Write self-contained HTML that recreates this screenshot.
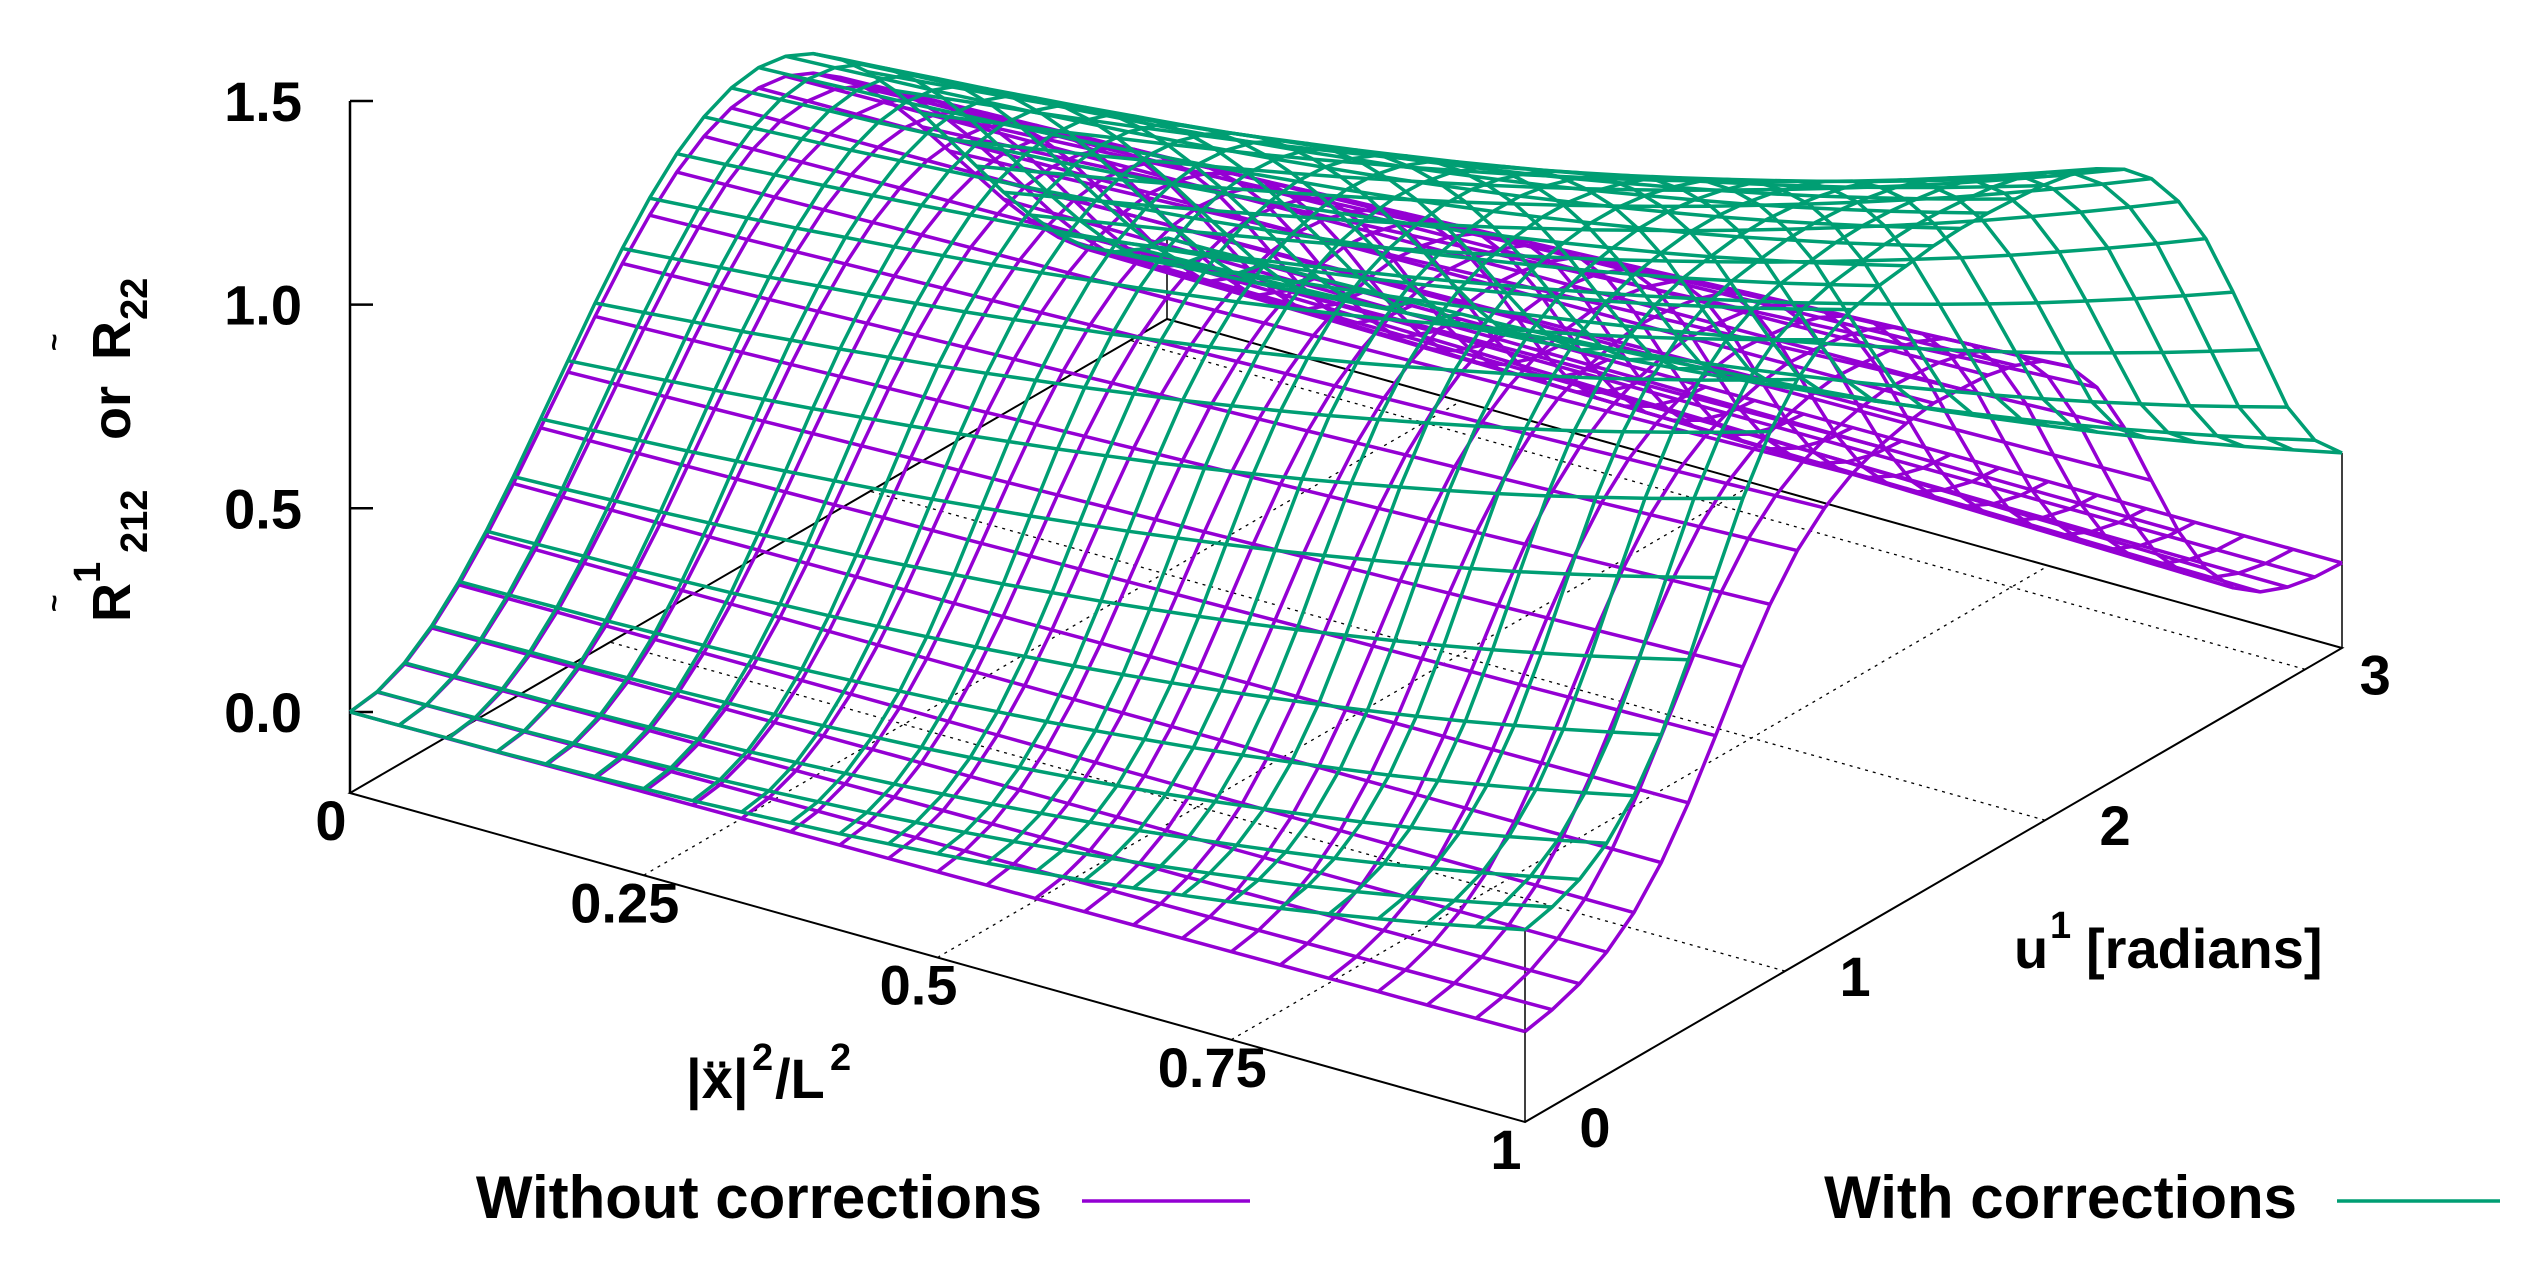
<!DOCTYPE html>
<html><head><meta charset="utf-8"><style>
html,body{margin:0;padding:0;background:#fff;}
svg{display:block;}
text{font-family:"Liberation Sans",Arial,sans-serif;font-weight:bold;fill:#000;}
</style></head><body>
<svg id="chart" width="2545" height="1266" viewBox="0 0 2545 1266" xmlns="http://www.w3.org/2000/svg">
<rect width="2545" height="1266" fill="#fff"/>
<g id="grid"></g>
<g id="box"></g>
<g id="purple"></g>
<g id="green"></g>
<g id="labels"></g>
<g transform="translate(130,622) rotate(-90)">
  <text x="0" y="0" font-size="54">R</text>
  <text x="39" y="-30" font-size="38">1</text>
  <text x="69" y="17" font-size="38">212</text>
  <text x="182" y="0" font-size="54">or</text>
  <text x="262" y="0" font-size="54">R</text>
  <text x="302" y="17" font-size="38">22</text>
  <text x="10" y="-66" font-size="30" font-weight="normal">~</text>
  <text x="271" y="-66" font-size="30" font-weight="normal">~</text>
</g>
<g>
  <text x="686" y="1098" font-size="56">|x|</text>
  <text x="707" y="1100" font-size="56">¨</text>
  <text x="752" y="1070" font-size="38">2</text>
  <text x="775" y="1098" font-size="56">/L</text>
  <text x="830" y="1070" font-size="38">2</text>
</g>
<g>
  <text x="2014" y="968" font-size="56">u</text>
  <text x="2050" y="938" font-size="38">1</text>
  <text x="2086" y="968" font-size="56">[radians]</text>
</g>
<g>
  <g>
    <text x="1042" y="1218" font-size="60" text-anchor="end">Without corrections</text>
    <line x1="1082" y1="1201" x2="1250" y2="1201" stroke="#9400d3" stroke-width="3.5"/>
  </g>
  <g>
    <text x="2297" y="1218" font-size="60" text-anchor="end">With corrections</text>
    <line x1="2337" y1="1201" x2="2500" y2="1201" stroke="#009e73" stroke-width="3.5"/>
  </g>
</g>
</svg>
<script>
// ---- data ----
const xSamples = [0,.0417,.0833,.125,.1667,.2083,.25,.2917,.3333,.375,.4167,.4583,.5,.5417,.5833,.625,.6667,.7083,.75,.7917,.8333,.875,.9167,.9583,1];
const xBlend = [0,.042,.083,.125,.167,.208,.25,.292,.333,.375,.417,.458,.5,.542,.583,.625,.667,.708,.75,.792,.833,.875,.917,.958,1];
const greenOffset = [0,0,.001,.001,.003,.005,.008,.011,.016,.022,.028,.036,.044,.054,.065,.077,.091,.106,.122,.139,.158,.179,.201,.225,.25];
const uSteps = 30; // u samples from 0 to pi
const greenAtX0 = [0,.011,.043,.095,.165,.25,.345,.448,.552,.655,.75,.835,.905,.957,.989,1.0,.989,.957,.905,.835,.75,.655,.552,.448,.345,.25,.165,.095,.043,.011,0];
const greenAtX1 = [.023,.040,.069,.119,.197,.308,.453,.616,.772,.897,.986,1.045,1.08,1.10,1.11,1.12,1.124,1.123,1.119,1.113,1.10,1.077,1.037,.975,.88,.75,.58,.40,.22,.10,.03];
const purpleAtX0 = [0,.01,.04,.09,.157,.238,.328,.426,.524,.622,.713,.793,.86,.909,.94,.95,.94,.909,.86,.793,.713,.622,.524,.426,.328,.238,.157,.09,.04,.01,0];
const purpleAtX1 = [.023,.038,.063,.102,.16,.244,.352,.478,.608,.723,.816,.882,.926,.955,.973,.984,.98,.975,.96,.932,.88,.79,.653,.484,.32,.19,.104,.055,.028,.014,.01];
const xTicks = [0,0.25,0.5,0.75,1];
const xTickLabels = ["0","0.25","0.5","0.75","1"];
const uTicks = [0,1,2,3];
const uTickLabels = ["0","1","2","3"];
const zTicks = [0,0.5,1.0,1.5];
const zTickLabels = ["0.0","0.5","1.0","1.5"];

// ---- axes / projection ----
const NS = "http://www.w3.org/2000/svg";
const O = [350,793], XV = [1175,329], UV = [817,-474], ZS = 407.3, ZBASE = -0.199;
function P(x,u,z){
  const t = u/Math.PI;
  return [O[0]+x*XV[0]+t*UV[0], O[1]+x*XV[1]+t*UV[1]-(z-ZBASE)*ZS];
}
function mk(tag, attrs, parent){
  const e = document.createElementNS(NS, tag);
  for (const k in attrs) e.setAttribute(k, attrs[k]);
  parent.appendChild(e); return e;
}
function uAt(k){ return k*Math.PI/uSteps; }
function zVal(a0,a1,off,i,k){ return (off?off[i]:0) + (1-xBlend[i])*a0[k] + xBlend[i]*a1[k]; }

// grid (dotted)
const grid = document.getElementById('grid');
[0.25,0.5,0.75].forEach(function(x){
  const a=P(x,0,ZBASE), b=P(x,Math.PI,ZBASE);
  const l=mk('line',{x1:a[0],y1:a[1],x2:b[0],y2:b[1],stroke:'#000','stroke-width':1.3,'stroke-dasharray':'3,5'},grid);
  
  
});
[1,2,3].forEach(function(u){
  const a=P(1,u,ZBASE), b=P(0,u,ZBASE);
  const l=mk('line',{x1:a[0],y1:a[1],x2:b[0],y2:b[1],stroke:'#000','stroke-width':1.3,'stroke-dasharray':'3,5'},grid);
  
  
});

// base box
const box = document.getElementById('box');
const c0=P(0,0,ZBASE), c1=P(1,0,ZBASE), c2=P(1,Math.PI,ZBASE), c3=P(0,Math.PI,ZBASE);
const bp=mk('polygon',{points:[c0,c1,c2,c3].map(p=>p.join(',')).join(' '),fill:'none',stroke:'#000','stroke-width':2},box);


// z axis
const zt=P(0,0,1.5);
const za=mk('line',{x1:c0[0],y1:c0[1],x2:zt[0],y2:zt[1],stroke:'#000','stroke-width':2.5},box);


zTicks.forEach(function(z,i){
  const p=P(0,0,z);
  const t=mk('line',{x1:p[0],y1:p[1],x2:p[0]+23,y2:p[1],stroke:'#000','stroke-width':2.5},box);
  
  
  const tx=mk('text',{x:p[0]-48,y:p[1]+20,'font-size':56,'text-anchor':'end'},document.getElementById('labels'));
  tx.textContent=zTickLabels[i];
  
  
});
// corner verticals
function vert(x,u){
  const b=P(x,u,ZBASE);
  const zg=zVal(greenAtX0,greenAtX1,greenOffset,x?24:0,u?uSteps:0);
  const zp=zVal(purpleAtX0,purpleAtX1,null,x?24:0,u?uSteps:0);
  const t=P(x,u,Math.max(zg,zp));
  const l=mk('line',{x1:b[0],y1:b[1],x2:t[0],y2:t[1],stroke:'#000','stroke-width':1.5},box);
  
  
}
vert(1,0); vert(1,Math.PI); vert(0,Math.PI);

// tick labels
const lab=document.getElementById('labels');
xTicks.forEach(function(x,i){
  const p=P(x,0,ZBASE);
  const t=mk('text',{x:p[0]-19,y:p[1]+47,'font-size':56,'text-anchor':'middle'},lab);
  t.textContent=xTickLabels[i];
  
  
});
uTicks.forEach(function(u,i){
  const p=P(1,u,ZBASE);
  const t=mk('text',{x:p[0]+70,y:p[1]+25,'font-size':56,'text-anchor':'middle'},lab);
  t.textContent=uTickLabels[i];
  
  
});

// surfaces
function drawSurface(g, a0, a1, off, color){
  for(let i=0;i<xSamples.length;i++){
    const pts=[];
    for(let k=0;k<=uSteps;k++){ pts.push(P(xSamples[i],uAt(k),zVal(a0,a1,off,i,k)).map(v=>v.toFixed(1)).join(',')); }
    const l=mk('polyline',{points:pts.join(' '),fill:'none',stroke:color,'stroke-width':3.5,'stroke-linejoin':'round'},g);
    
    
  }
  for(let k=0;k<=uSteps;k++){
    const pts=[];
    for(let i=0;i<xSamples.length;i++){ pts.push(P(xSamples[i],uAt(k),zVal(a0,a1,off,i,k)).map(v=>v.toFixed(1)).join(',')); }
    const l=mk('polyline',{points:pts.join(' '),fill:'none',stroke:color,'stroke-width':3.5,'stroke-linejoin':'round'},g);
    
    
  }
}
drawSurface(document.getElementById('purple'), purpleAtX0, purpleAtX1, null, '#9400d3');
drawSurface(document.getElementById('green'), greenAtX0, greenAtX1, greenOffset, '#009e73');
</script>
</body></html>
